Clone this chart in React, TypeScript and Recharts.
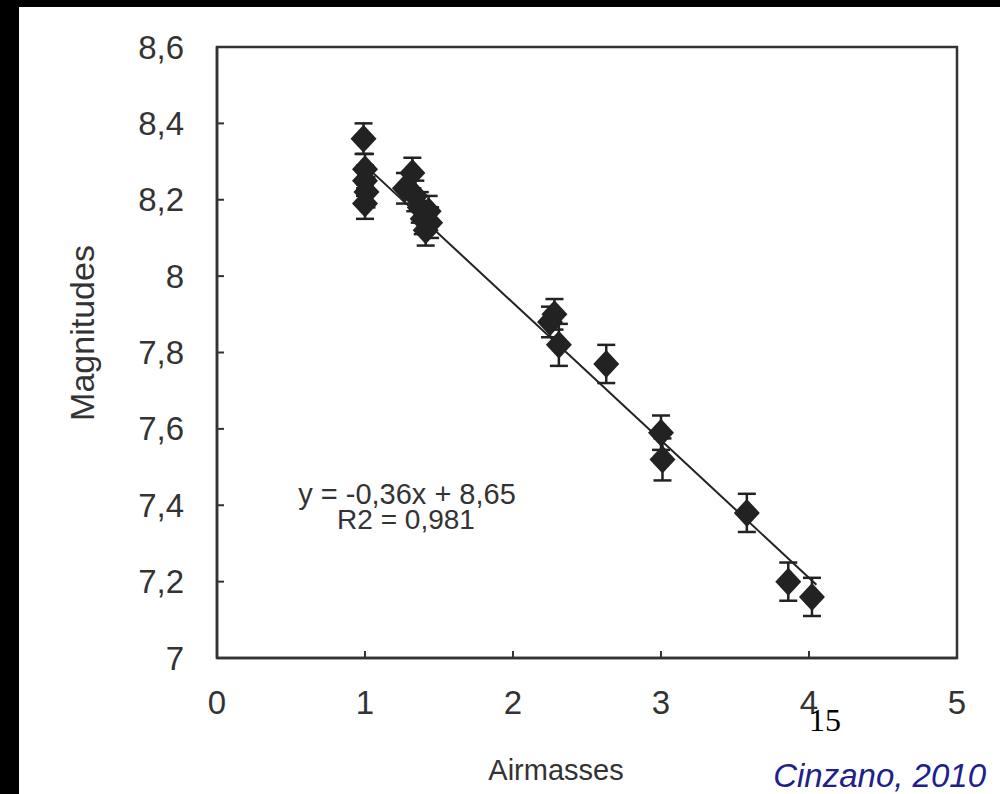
import React from 'react';
import { ScatterChart, Scatter, XAxis, YAxis, ErrorBar, ReferenceLine, ReferenceArea } from 'recharts';

const airmass = [0.99, 1.0, 1.0, 1.01, 1.0, 1.27, 1.32, 1.34, 1.37, 1.39, 1.41, 1.44, 1.43, 2.25, 2.28, 2.31, 2.63, 3.0, 3.01, 3.58, 3.86, 4.02];
const magnitudes = [8.36, 8.28, 8.25, 8.22, 8.19, 8.23, 8.27, 8.21, 8.18, 8.15, 8.12, 8.14, 8.17, 7.88, 7.9, 7.82, 7.77, 7.59, 7.52, 7.38, 7.2, 7.16];
const errors = [0.04, 0.04, 0.04, 0.04, 0.04, 0.04, 0.04, 0.04, 0.04, 0.04, 0.04, 0.04, 0.04, 0.04, 0.04, 0.055, 0.05, 0.045, 0.055, 0.05, 0.05, 0.05];
const xTicks = [0, 1, 2, 3, 4, 5];
const yTicks = [7, 7.2, 7.4, 7.6, 7.8, 8, 8.2, 8.4, 8.6];
const xDomain = [0, 5];
const yDomain = [7, 8.6];
const slope = -0.36;
const intercept = 8.65;
const fitRange = [1.0, 4.05];

const points = airmass.map((x, i) => ({ x, y: magnitudes[i], err: errors[i] }));

const fmt = (v: number) => (Number.isInteger(v) ? String(v) : v.toFixed(1).replace('.', ','));

const FONT = '"Liberation Sans", Arial, Helvetica, sans-serif';
const INK = '#333333';
const MARK = '#222222';

const Diamond = (props: any) => {
  const { cx, cy } = props;
  if (cx == null || cy == null) return <g />;
  const w = 13;
  const h = 14;
  return (
    <polygon
      points={`${cx},${cy - h} ${cx + w},${cy} ${cx},${cy + h} ${cx - w},${cy}`}
      fill={MARK}
    />
  );
};

const YTick = (props: any) => {
  const { x, y, payload } = props;
  return (
    <g>
      <line x1={x} x2={x + 7} y1={y} y2={y} stroke={INK} strokeWidth={2} />
      <text x={x - 33} y={y} textAnchor="end" dominantBaseline="central" fontSize={33} fill={INK} fontFamily={FONT}>
        {fmt(payload.value)}
      </text>
    </g>
  );
};

const XTick = (props: any) => {
  const { x, y, payload } = props;
  return (
    <g>
      <line x1={x} x2={x} y1={y} y2={y - 7} stroke={INK} strokeWidth={2} />
      <text x={x} y={y + 44} textAnchor="middle" dominantBaseline="central" fontSize={33} fill={INK} fontFamily={FONT}>
        {fmt(payload.value)}
      </text>
    </g>
  );
};

export default function App() {
  return (
    <div style={{ position: 'fixed', left: 0, top: 0, width: 1000, height: 794, background: '#000', overflow: 'hidden' }}>
      <div style={{ position: 'absolute', left: 19, top: 7, right: 0, bottom: 0, background: '#fff' }} />
      <div style={{ position: 'absolute', left: 0, top: 0 }}>
        <ScatterChart width={1000} height={794} margin={{ top: 47, right: 43, left: 0, bottom: 0 }}>
          <XAxis
            type="number"
            dataKey="x"
            domain={xDomain}
            ticks={xTicks}
            interval={0}
            height={136}
            axisLine={{ stroke: INK, strokeWidth: 2.5 }}
            tickLine={false}
            tickSize={0}
            tickMargin={0}
            tick={<XTick />}
            allowDataOverflow
          />
          <YAxis
            type="number"
            dataKey="y"
            domain={yDomain}
            ticks={yTicks}
            interval={0}
            width={217}
            axisLine={{ stroke: INK, strokeWidth: 2.5 }}
            tickLine={false}
            tickSize={0}
            tickMargin={0}
            tick={<YTick />}
            allowDataOverflow
          />
          <ReferenceArea
            x1={xDomain[0]}
            x2={xDomain[1]}
            y1={yDomain[0]}
            y2={yDomain[1]}
            fill="none"
            fillOpacity={0}
            stroke={INK}
            strokeWidth={2.5}
            ifOverflow="visible"
          />
          <ReferenceLine
            segment={[
              { x: fitRange[0], y: slope * fitRange[0] + intercept },
              { x: fitRange[1], y: slope * fitRange[1] + intercept },
            ]}
            stroke={MARK}
            strokeWidth={2}
          />
          <Scatter data={points} shape={<Diamond />} isAnimationActive={false}>
            <ErrorBar dataKey="err" direction="y" width={9} stroke={MARK} strokeWidth={2.5} isAnimationActive={false} />
          </Scatter>
        </ScatterChart>
      </div>
      <div style={{ position: 'absolute', left: 82, top: 333, transform: 'translate(-50%, -50%) rotate(-90deg)', fontFamily: FONT, fontSize: 34, color: INK, whiteSpace: 'nowrap', lineHeight: 1 }}>
        Magnitudes
      </div>
      <div style={{ position: 'absolute', left: 556, top: 770, transform: 'translate(-50%, -50%)', fontFamily: FONT, fontSize: 29, color: INK, whiteSpace: 'nowrap', lineHeight: 1 }}>
        Airmasses
      </div>
      <div style={{ position: 'absolute', left: 407, top: 494, transform: 'translate(-50%, -50%)', fontFamily: FONT, fontSize: 29, color: INK, whiteSpace: 'nowrap', lineHeight: 0.85 }}>
        y = -0,36x + 8,65
      </div>
      <div style={{ position: 'absolute', left: 406, top: 520, transform: 'translate(-50%, -50%)', fontFamily: FONT, fontSize: 28, color: INK, whiteSpace: 'nowrap', lineHeight: 0.85 }}>
        R2 = 0,981
      </div>
      <div style={{ position: 'absolute', left: 825, top: 720, transform: 'translate(-50%, -50%)', fontFamily: '"Liberation Serif", "Times New Roman", serif', fontSize: 32, color: '#000', whiteSpace: 'nowrap', lineHeight: 1 }}>
        15
      </div>
      <div style={{ position: 'absolute', right: 14, top: 775, transform: 'translateY(-50%)', fontFamily: FONT, fontStyle: 'italic', fontSize: 33, color: '#20208C', whiteSpace: 'nowrap', lineHeight: 1 }}>
        Cinzano, 2010
      </div>
    </div>
  );
}
